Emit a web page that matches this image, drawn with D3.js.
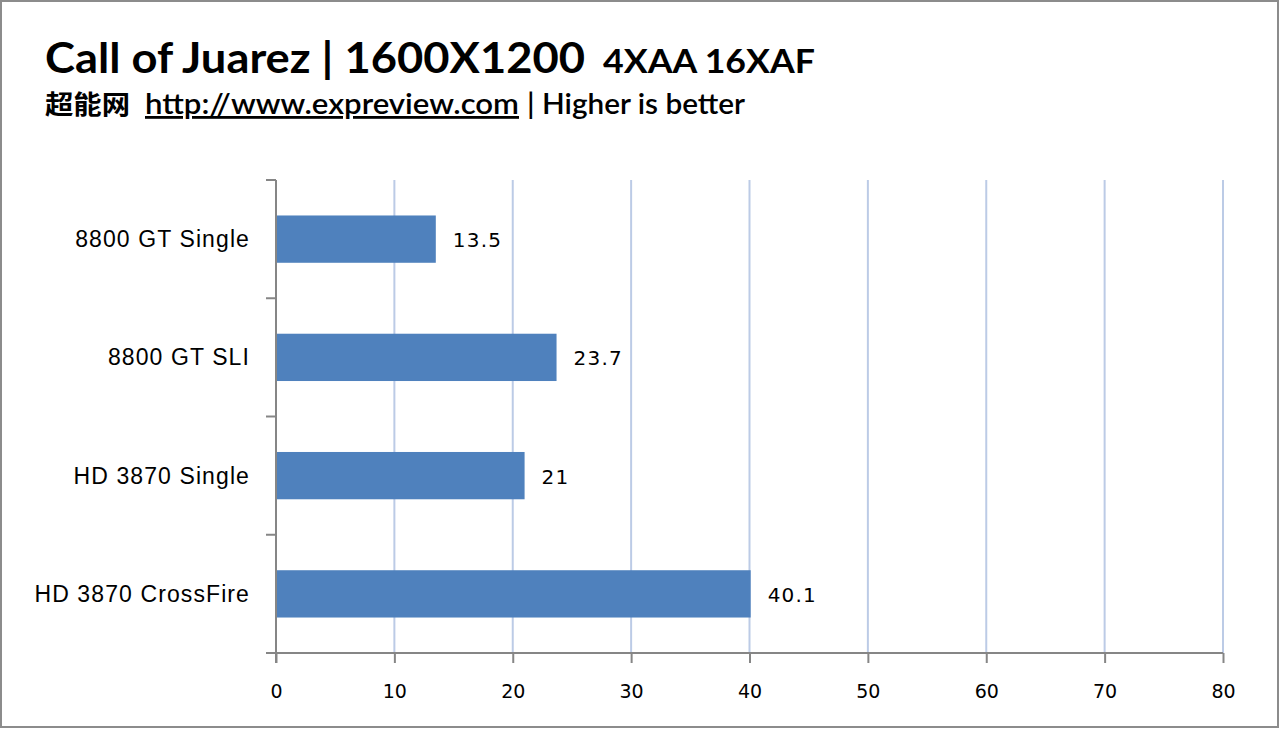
<!DOCTYPE html>
<html><head><meta charset="utf-8">
<script src="https://cdn.jsdelivr.net/npm/d3@7"></script>
<style>
html,body{margin:0;padding:0;background:#fff;}
svg{display:block;}
</style></head>
<body>
<svg id="c" width="1280" height="729"></svg>
<script>
const categories = ["8800 GT Single", "8800 GT SLI", "HD 3870 Single", "HD 3870 CrossFire"];
const values = [13.5, 23.7, 21, 40.1];
const valueLabels = ["13.5", "23.7", "21", "40.1"];
const xTicks = [0, 10, 20, 30, 40, 50, 60, 70, 80];
const titleMain = "Call of Juarez | 1600X1200";
const titleSub = "4XAA 16XAF";
const subCN = "超能网";
const subURL = "http://www.expreview.com";
const subRest = "| Higher is better";

const svg = d3.select("#c");
// frame
svg.append("rect").attr("x",1).attr("y",1).attr("width",1277).attr("height",726)
  .attr("fill","#fff").attr("stroke","#8c8c8c").attr("stroke-width",2);

const m = {left:276, right:1223, top:180, bottom:653};
const x = d3.scaleLinear().domain([0,80]).range([m.left, m.right]);
const y = d3.scaleBand().domain(categories).range([m.top, m.bottom]).paddingInner(0.6).paddingOuter(0.3);

// gridlines
svg.append("g").selectAll("line").data(xTicks.slice(1)).join("line")
  .attr("x1", d=>x(d)).attr("x2", d=>x(d)).attr("y1", m.top).attr("y2", m.bottom)
  .attr("stroke","#bccbe6").attr("stroke-width",2);

// bars
svg.append("g").selectAll("rect").data(values).join("rect")
  .attr("x", x(0)).attr("y", (d,i)=>y(categories[i]))
  .attr("width", d=>x(d)-x(0)).attr("height", y.bandwidth())
  .attr("fill","#4f81bd");

// value labels
svg.append("g").selectAll("text").data(values).join("text")
  .attr("x", d=>x(d)+17).attr("y", (d,i)=>y(categories[i])+y.bandwidth()/2+8)
  .attr("font-family","DejaVu Sans, Verdana, sans-serif").attr("font-size",20)
  .attr("letter-spacing",1.2)
  .attr("fill","#000").text((d,i)=>valueLabels[i]);

// x axis
const xAxis = d3.axisBottom(x).tickValues(xTicks).tickSize(10).tickSizeOuter(0).tickPadding(22);
const gx = svg.append("g").attr("transform",`translate(0,${m.bottom})`).call(xAxis);
gx.select(".domain").attr("stroke","#868686").attr("stroke-width",2).attr("d",`M${m.left-10},0H${m.right}`);
gx.selectAll(".tick line").attr("stroke","#868686").attr("stroke-width",2);
gx.selectAll(".tick text").attr("font-family","DejaVu Sans, Verdana, sans-serif").attr("font-size",19).attr("fill","#000");

// y axis
const bounds = d3.range(categories.length+1).map(i=> m.top + i*(m.bottom-m.top)/categories.length);
const gy = svg.append("g");
gy.append("line").attr("x1",m.left).attr("x2",m.left).attr("y1",m.top).attr("y2",m.bottom+10)
  .attr("stroke","#868686").attr("stroke-width",2);
gy.selectAll("line.t").data(bounds).join("line").attr("class","t")
  .attr("x1",m.left-10).attr("x2",m.left).attr("y1",d=>d).attr("y2",d=>d)
  .attr("stroke","#868686").attr("stroke-width",2);
gy.selectAll("text").data(categories).join("text")
  .attr("x", 250).attr("y", d=>y(d)+y.bandwidth()/2+8)
  .attr("text-anchor","end")
  .attr("font-family","Liberation Sans, Arial, sans-serif").attr("font-size",23)
  .attr("letter-spacing",1.1)
  .attr("fill","#000").text(d=>d);

// titles
svg.append("text").attr("x",45).attr("y",73).attr("font-family","Lato, Calibri, sans-serif")
  .attr("font-weight","bold").attr("fill","#000").attr("font-size",42)
  .attr("textLength",540).attr("lengthAdjust","spacingAndGlyphs").text(titleMain);
svg.append("text").attr("x",603).attr("y",73).attr("font-family","Lato, Calibri, sans-serif")
  .attr("font-weight","bold").attr("fill","#000").attr("font-size",32)
  .attr("textLength",212).attr("lengthAdjust","spacingAndGlyphs").text(titleSub);

svg.append("text").attr("x",45).attr("y",114).attr("font-family","Noto Sans CJK SC")
  .attr("font-weight","bold").attr("font-size",26).attr("fill","#000")
  .attr("textLength",85).attr("lengthAdjust","spacingAndGlyphs").text(subCN);
svg.append("text").attr("x",145).attr("y",114).attr("font-family","Lato, Calibri, sans-serif")
  .attr("font-size",28).attr("font-weight",600).attr("fill","#000").attr("text-decoration","underline")
  .attr("textLength",374).attr("lengthAdjust","spacingAndGlyphs").text(subURL);
svg.append("text").attr("x",527).attr("y",114).attr("font-family","Lato, Calibri, sans-serif")
  .attr("font-size",28).attr("font-weight",600).attr("fill","#000")
  .attr("textLength",218).attr("lengthAdjust","spacingAndGlyphs").text(subRest);
</script>
</body></html>
